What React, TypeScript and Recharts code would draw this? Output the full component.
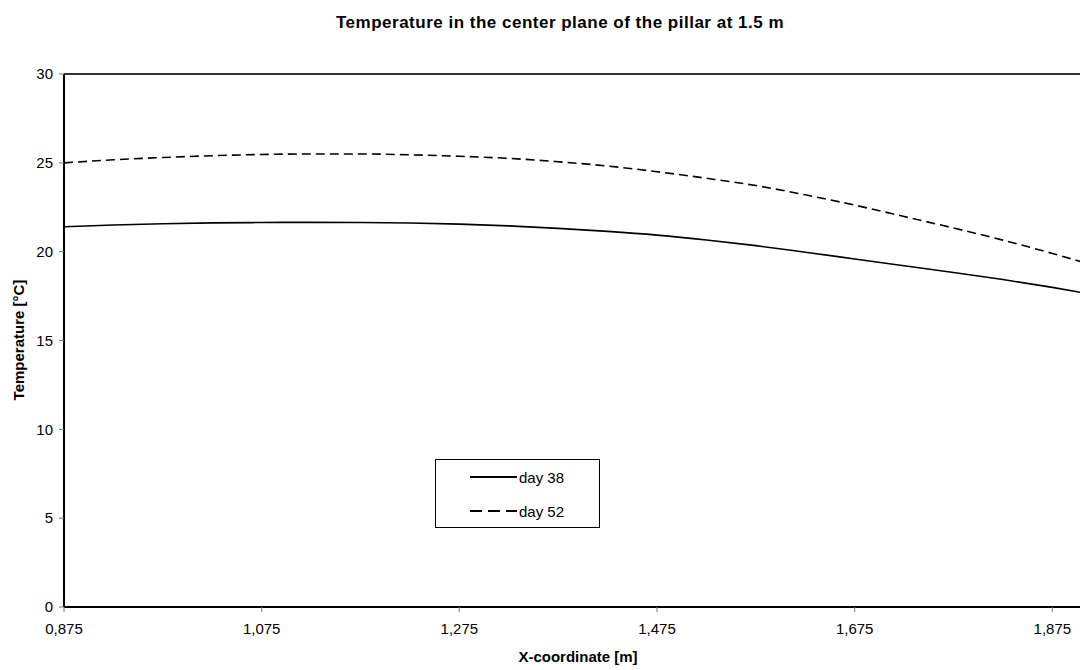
import { LineChart, Line, XAxis, YAxis, ReferenceLine } from 'recharts';

const xCoord = [
  0.875, 0.925, 0.975, 1.025, 1.075, 1.125, 1.175, 1.225, 1.275, 1.325, 1.375,
  1.425, 1.475, 1.525, 1.575, 1.625, 1.675, 1.725, 1.775, 1.825, 1.875, 1.925,
];
const day38 = [
  21.4, 21.5, 21.57, 21.62, 21.64, 21.65, 21.64, 21.61, 21.55, 21.45, 21.31,
  21.14, 20.93, 20.66, 20.34, 19.97, 19.59, 19.21, 18.83, 18.43, 17.99, 17.5,
];
const day52 = [
  25.0, 25.17, 25.3, 25.4, 25.47, 25.5, 25.5, 25.45, 25.37, 25.25, 25.06,
  24.82, 24.5, 24.13, 23.72, 23.2, 22.62, 21.98, 21.33, 20.65, 19.9, 19.1,
];
const xTicks = [0.875, 1.075, 1.275, 1.475, 1.675, 1.875];
const yTicks = [0, 5, 10, 15, 20, 25, 30];

const data = xCoord.map((x, i) => ({ x, day38: day38[i], day52: day52[i] }));

const font = 'Arial, "Liberation Sans", sans-serif';

function LegendBox() {
  const row = (dash: string | undefined, label: string) => (
    <div style={{ display: 'flex', alignItems: 'center', height: 34 }}>
      <svg width={47} height={4} style={{ marginLeft: 34 }}>
        <line x1={0} y1={2} x2={47} y2={2} stroke="#000" strokeWidth={1.8} strokeDasharray={dash} />
      </svg>
      <span style={{ marginLeft: 2, fontSize: 15, fontFamily: font, color: '#000' }}>{label}</span>
    </div>
  );
  return (
    <div
      style={{
        position: 'absolute', left: 435, top: 459, width: 165, height: 69,
        border: '1px solid #000', background: '#fff', boxSizing: 'border-box',
      }}
    >
      {row(undefined, 'day 38')}
      {row('12 6', 'day 52')}
    </div>
  );
}

export default function App() {
  return (
    <div style={{ position: 'absolute', left: 0, top: 0, width: 1080, height: 670, background: '#fff' }}>
      <div
        style={{
          position: 'absolute', left: 0, width: 1120, top: 13, textAlign: 'center',
          fontFamily: font, fontWeight: 'bold', fontSize: 17, letterSpacing: 0.5, color: '#000',
        }}
      >
        Temperature in the center plane of the pillar at 1.5 m
      </div>
      <LineChart width={1080} height={670} data={data} margin={{ top: 74, right: 0, bottom: 0, left: 0 }}>
        <XAxis
          dataKey="x"
          type="number"
          domain={[0.875, 1.903]}
          allowDataOverflow
          ticks={xTicks}
          tickFormatter={(v: number) => v.toFixed(3).replace('.', ',')}
          height={63}
          axisLine={{ stroke: '#000', strokeWidth: 2 }}
          tickLine={{ stroke: '#777' }}
          tickSize={5}
          tickMargin={11}
          tick={{ fill: '#000', fontSize: 15, fontFamily: font }}
          label={{
            value: 'X-coordinate [m]', position: 'insideBottom', offset: 8, dx: 6,
            fill: '#000', fontSize: 15, fontWeight: 'bold', fontFamily: font,
          }}
        />
        <YAxis
          type="number"
          domain={[0, 30]}
          ticks={yTicks}
          width={64}
          axisLine={{ stroke: '#000', strokeWidth: 2 }}
          tickLine={{ stroke: '#777' }}
          tickSize={5}
          tickMargin={6}
          tick={{ fill: '#000', fontSize: 15, fontFamily: font }}
          label={{
            value: 'Temperature [°C]',
            content: () => (
              <text
                transform="translate(18,340) rotate(-90)"
                textAnchor="middle"
                dominantBaseline="central"
                fill="#000"
                fontSize={15}
                fontWeight="bold"
                fontFamily={font}
              >
                Temperature [°C]
              </text>
            ),
          }}
        />
        <ReferenceLine y={30} stroke="#333" strokeWidth={2} />
        <Line
          dataKey="day38"
          type="monotone"
          stroke="#000"
          strokeWidth={1.6}
          dot={false}
          isAnimationActive={false}
        />
        <Line
          dataKey="day52"
          type="monotone"
          stroke="#000"
          strokeWidth={1.6}
          strokeDasharray="9 5"
          dot={false}
          isAnimationActive={false}
        />
      </LineChart>
      <LegendBox />
    </div>
  );
}
